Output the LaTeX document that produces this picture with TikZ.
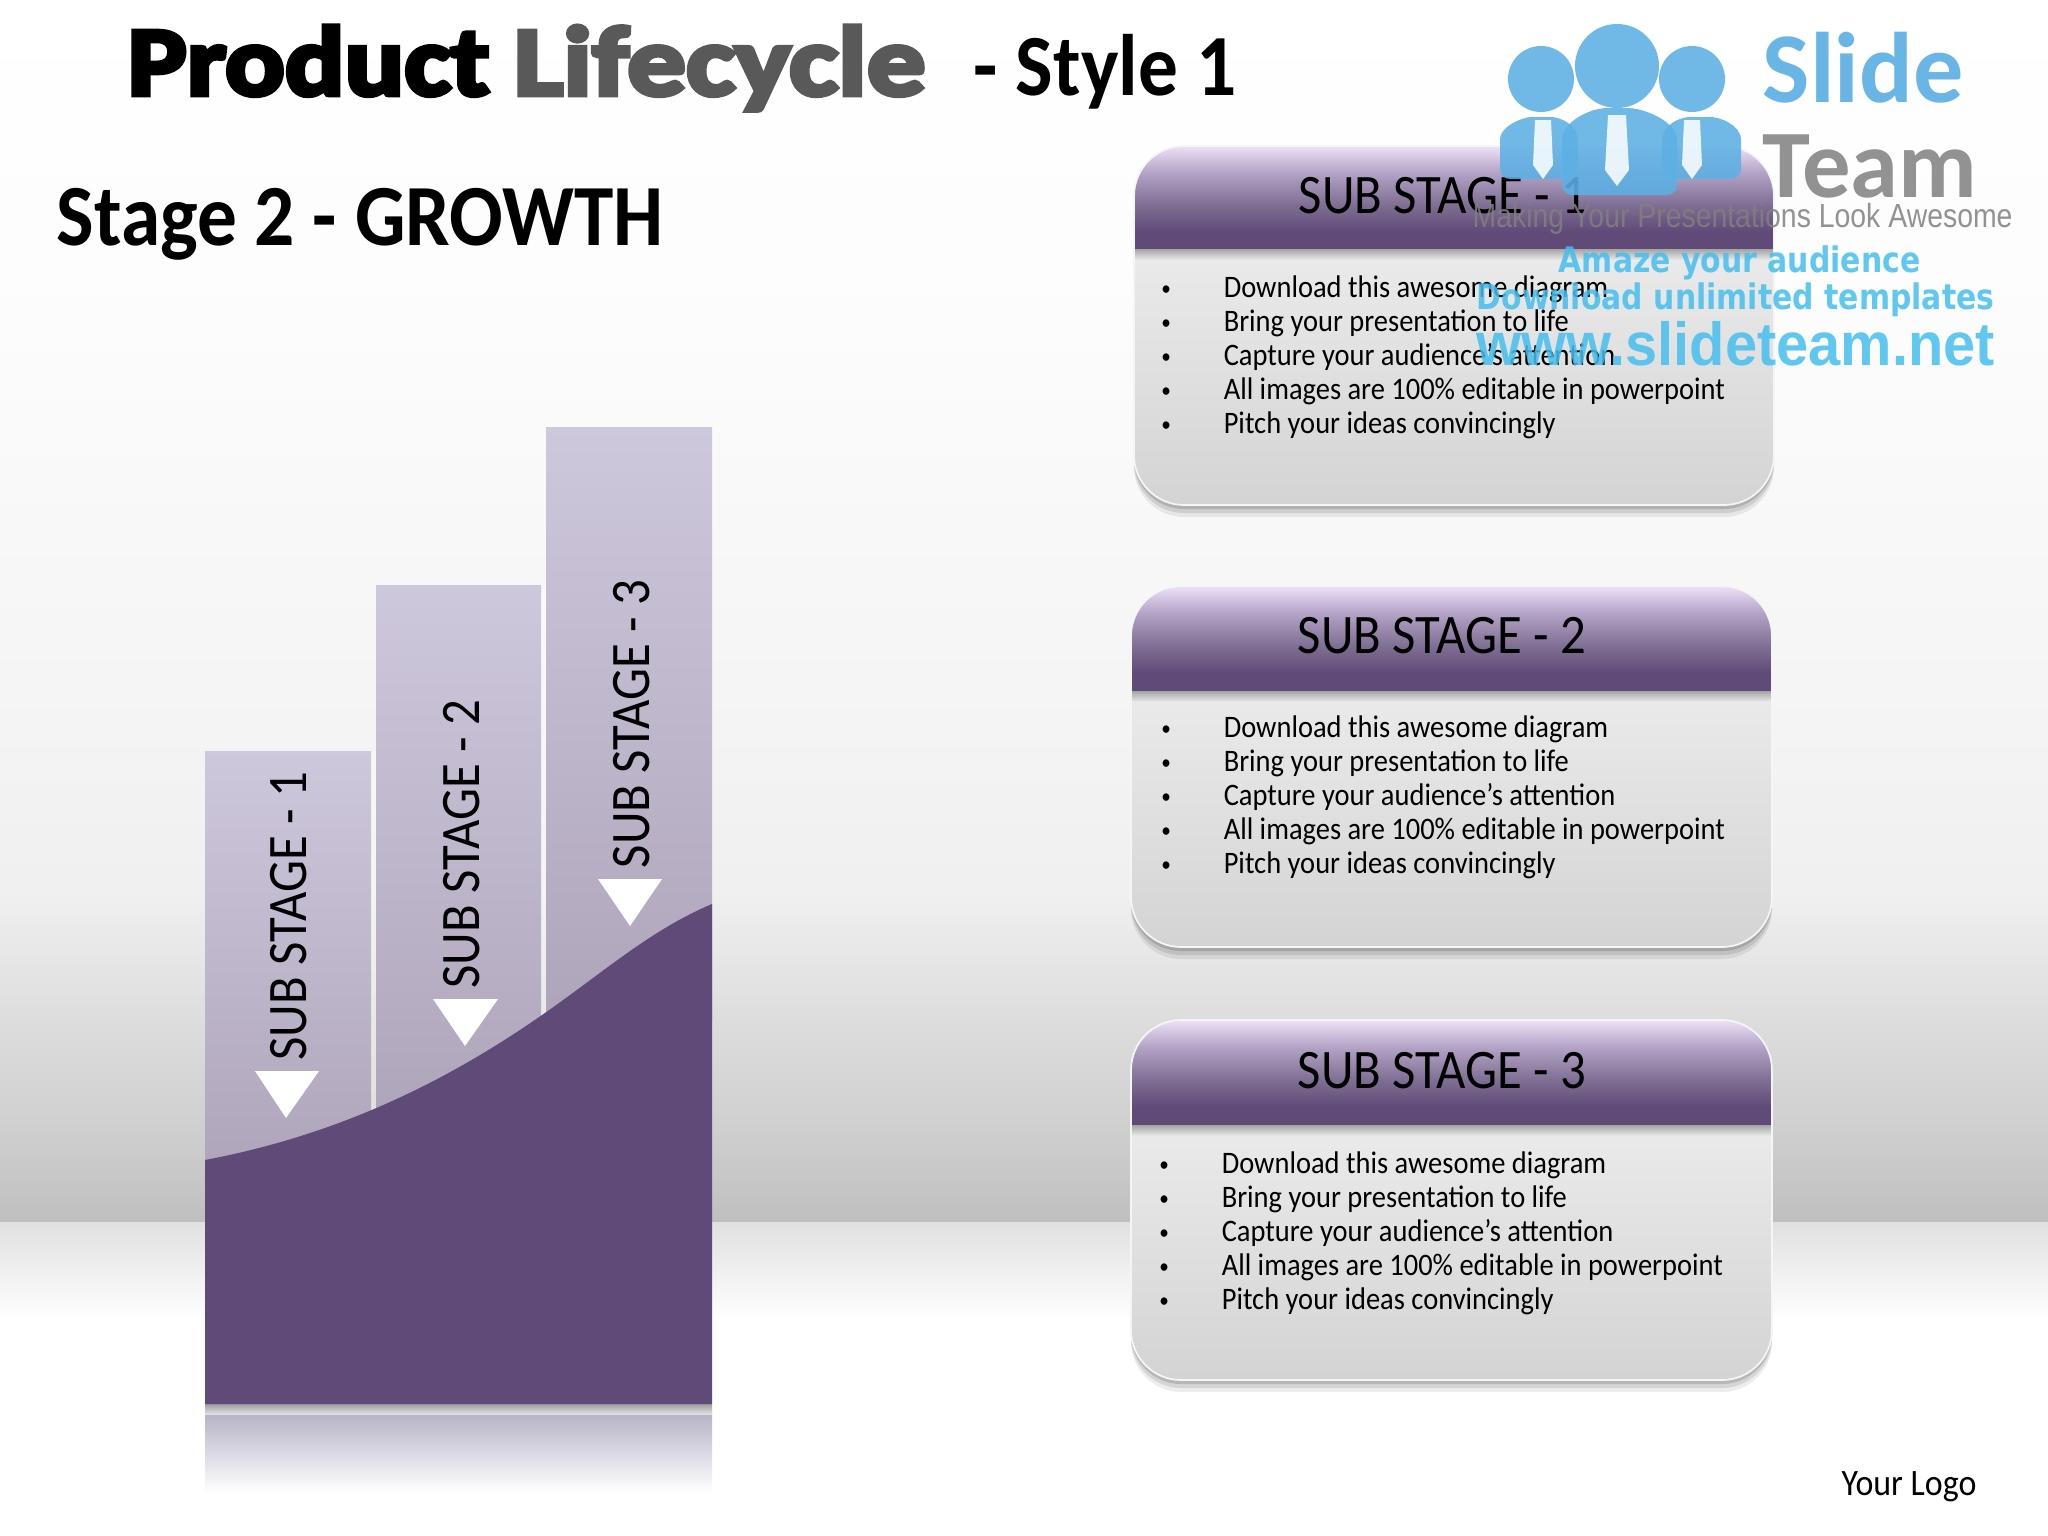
\documentclass[tikz,border=0pt]{standalone}
\usepackage{fontspec}
\setmainfont[FakeStretch=0.91]{Carlito}
\newfontfamily\heavyfont{Carlito}[UprightFont=* Bold,FakeBold=5,FakeStretch=1.13]
\newfontfamily\lifefont{Carlito}[UprightFont=* Bold,FakeBold=5,FakeStretch=1.19]
\newfontfamily\logofont{Carlito}[UprightFont=* Bold]
\newfontfamily\markfont[FakeStretch=0.85]{DejaVu Sans}
\newfontfamily\urlfont[FakeStretch=0.95]{Liberation Sans}
\newfontfamily\slogan[FakeStretch=0.85]{Liberation Sans}
\usepackage{tikz}
\usetikzlibrary{shadows}
\usetikzlibrary{calc}

\definecolor{plum}{HTML}{5F4A78}
\definecolor{lilac}{HTML}{EDE2F8}
\definecolor{lilacmid}{HTML}{B3A3C6}
\definecolor{skyblue}{HTML}{4FA9E2}
\definecolor{cyanmark}{HTML}{45BFEE}
\definecolor{columntop}{HTML}{CEC8DC}
\definecolor{columnlow}{HTML}{AFA5BB}
\definecolor{reflect}{HTML}{B8B4C8}

\pgfdeclareverticalshading{wallshade}{100bp}{
  color(0bp)=(black!25); color(25bp)=(black!25); color(28.7bp)=(black!19); color(33.5bp)=(black!13);
  color(38.4bp)=(black!6); color(46.5bp)=(black!4); color(62.7bp)=(black!1); color(75bp)=(white); color(100bp)=(white)}
\pgfdeclareverticalshading{headshade}{100bp}{
  color(0bp)=(plum); color(25bp)=(plum); color(33bp)=(plum); color(46bp)=(plum!80!white); color(62bp)=(lilacmid);
  color(75bp)=(lilac); color(100bp)=(lilac)}

\begin{document}
\begin{tikzpicture}[x=0.01cm,y=-0.01cm,
  headtext/.style={font=\fontsize{15.85}{18}\selectfont},
  sidetext/.style={font=\fontsize{15.85}{18}\selectfont,rotate=90},
  listtext/.style={font=\fontsize{8.9}{9.67}\selectfont,anchor=west,inner sep=0pt},
  titletext/.style={anchor=base west,inner sep=0pt},
  column/.style={top color=columntop,bottom color=columnlow},
  marker/.style={fill=white},
  person/.style={fill=skyblue!92!white,opacity=0.88},
  tie/.style={fill=white,opacity=0.85},
  logotext/.style={inner sep=0pt,opacity=0.85}]

\useasboundingbox (0,0) rectangle (2048,1536);

% room
\shade[shading=wallshade] (0,0) rectangle (2048,1222);
\shade[top color=black!12,bottom color=white] (0,1222) rectangle (2048,1320);

\node[titletext,font=\heavyfont\fontsize{28}{30}\selectfont] (product) at (127,95) {Product};
\node[titletext,text=black!65,font=\lifefont\fontsize{28}{30}\selectfont] (lifecycle) at (513,95) {Lifecycle};
\node[titletext,font=\bfseries\fontsize{24.8}{27}\selectfont] (style) at (973,95) {- Style 1};
\node[titletext,font=\bfseries\fontsize{24.8}{27}\selectfont] (growth) at (56,245) {Stage 2 - GROWTH};

% columns
\fill[white,opacity=0.35] (371,751) rectangle (376,1120);
\fill[white,opacity=0.35] (541,585) rectangle (546,1020);
\shade[column] (205,751) rectangle (371,1170);
\shade[column] (376,585) rectangle (541,1120);
\shade[column] (546,427) rectangle (712,1020);

\node[sidetext] (side1) at (289,916) {SUB STAGE - 1};
\node[sidetext] (side2) at (462,844) {SUB STAGE - 2};
\node[sidetext] (side3) at (632,724) {SUB STAGE - 3};

\fill[marker] (255,1071) -- (319,1071) -- (286,1118) -- cycle;
\fill[marker] (433,999) -- (498,999) -- (465,1046) -- cycle;
\fill[marker] (598,879) -- (662,879) -- (630,926) -- cycle;

% area under the curve
\shade[top color=black!38,bottom color=black!12] (205,1404) rectangle (712,1414);
\shade[top color=reflect,bottom color=white] (205,1415) rectangle (712,1493);
\fill[plum] (205,1160) .. controls (310,1140) and (420,1100) .. (542,1015)
  .. controls (600,975) and (650,930) .. (712,904) -- (712,1404) -- (205,1404) -- cycle;

% one box: left, top, right, bottom, bar
\def\stagebox#1#2#3#4#5{
  \fill[black,opacity=0.07,rounded corners=0.5cm] (#1,#2+12) rectangle (#3,#4+12);
  \fill[black,opacity=0.10,rounded corners=0.5cm] (#1,#2+8) rectangle (#3,#4+8);
  \fill[black,opacity=0.14,rounded corners=0.5cm] (#1,#2+4) rectangle (#3,#4+4);
  \begin{scope}
    \clip[rounded corners=0.5cm] (#1,#2) rectangle (#3,#4);
    \shade[top color=black!8,bottom color=black!17] (#1,#5) rectangle (#3,#4);
    \shade[top color=black!38,bottom color=black!8] (#1,#5) rectangle (#3,#5+12);
    \shade[shading=headshade] (#1,#2) rectangle (#3,#5);
  \end{scope}
  \draw[black!4,line width=0.5pt,rounded corners=0.5cm] (#1,#2) rectangle (#3,#4);
}
\def\dot{\hspace{0.75pt}\raisebox{0.6pt}{\fontsize{6}{6}\selectfont\textbullet}}
\def\stagelist{\begin{tabular}{@{}p{18.5pt}@{}l@{}}
\dot & Download this awesome diagram\\
\dot & Bring your presentation to life\\
\dot & Capture your audience’s attention\\
\dot & All images are 100\% editable in powerpoint\\
\dot & Pitch your ideas convincingly
\end{tabular}}

\stagebox{1134}{146}{1774}{505}{248}
\stagebox{1131}{586}{1772}{947}{690}
\stagebox{1131}{1020}{1772}{1380}{1124}

\node[headtext] (head1) at (1443,196) {SUB STAGE - 1};
\node[headtext] (head2) at (1442,636) {SUB STAGE - 2};
\node[headtext] (head3) at (1442,1071) {SUB STAGE - 3};

\node[listtext] (list1) at (1158,359) {\stagelist};
\node[listtext] (list2) at (1158,799) {\stagelist};
\node[listtext] (list3) at (1156,1235) {\stagelist};

\node[font=\fontsize{10.6}{12}\selectfont] (logo) at (1909,1487) {Your Logo};

% watermark
\fill[person,rounded corners=0.1cm] (1500,179) -- (1500,150) .. controls (1500,125) and (1525,117) .. (1541,117) .. controls (1560,117) and (1578,125) .. (1578,150) -- (1578,179) -- cycle;
\fill[person,rounded corners=0.1cm] (1662,179) -- (1662,150) .. controls (1662,125) and (1680,117) .. (1700,117) .. controls (1720,117) and (1741,125) .. (1741,150) -- (1741,179) -- cycle;
\fill[person,rounded corners=0.1cm] (1562,195) -- (1562,150) .. controls (1562,122) and (1590,108) .. (1617,108) .. controls (1645,108) and (1677,122) .. (1677,150) -- (1677,195) -- cycle;
\fill[person] (1541,79) circle[radius=33];
\fill[person] (1692,79) circle[radius=33];
\fill[person] (1617,66) circle[radius=42];
\fill[tie] (1535,120) -- (1551,120) -- (1553,165) -- (1543,179) -- (1533,165) -- cycle;
\fill[tie] (1684,120) -- (1700,120) -- (1702,165) -- (1692,179) -- (1682,165) -- cycle;
\fill[tie] (1608,115) -- (1626,115) -- (1629,170) -- (1617,186) -- (1605,170) -- cycle;

\node[logotext,anchor=west,text=skyblue,font=\logofont\fontsize{28.5}{30}\selectfont] (slide) at (1762,68) {Slide};
\node[logotext,anchor=west,text=black!50,font=\logofont\fontsize{27.5}{29}\selectfont] (team) at (1762,166) {Team};
\node[logotext,anchor=west,text=black!50,font=\slogan\fontsize{9.5}{11}\selectfont] (making) at (1472,219) {Making Your Presentations Look Awesome};
\node[logotext,anchor=west,text=cyanmark,font=\markfont\bfseries\fontsize{10}{12}\selectfont] (amaze) at (1558,263) {Amaze your audience};
\node[logotext,anchor=west,text=cyanmark,font=\markfont\bfseries\fontsize{10}{12}\selectfont] (unlimited) at (1476,300) {Download unlimited templates};
\node[logotext,anchor=west,text=cyanmark,font=\urlfont\bfseries\fontsize{17.3}{19}\selectfont] (url) at (1476,344) {www.slideteam.net};

\end{tikzpicture}
\end{document}
